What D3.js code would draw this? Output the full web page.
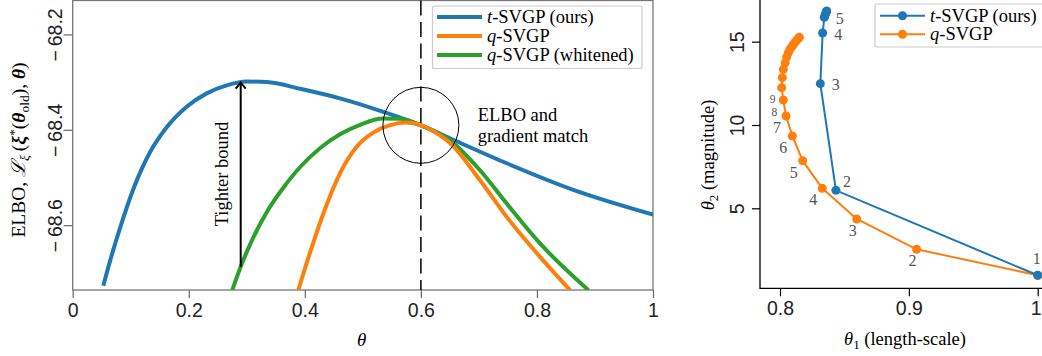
<!DOCTYPE html>
<html>
<head>
<meta charset="utf-8">
<script src="https://cdn.jsdelivr.net/npm/d3@7"></script>
<style>
  body { margin: 0; background: #fff; }
  svg { display: block; font-family: "Liberation Serif", "Times New Roman", serif; }
</style>
</head>
<body>
<script>
// left panel: ELBO vs theta
const thetaTicks = [0, 0.2, 0.4, 0.6, 0.8, 1];
const elboTicks = [-68.6, -68.4, -68.2];

const tTheta = [0.0527, 0.0643, 0.0815, 0.1044, 0.1332, 0.162, 0.1964, 0.2309, 0.2654, 0.2998, 0.3343, 0.3917, 0.4606, 0.5352, 0.6002, 0.6617, 0.7479, 0.8627, 1.0];
const tElbo = [-68.7271, -68.6754, -68.6063, -68.5246, -68.4471, -68.3948, -68.3518, -68.3236, -68.3068, -68.2988, -68.2997, -68.3139, -68.334, -68.3623, -68.3906, -68.4241, -68.4702, -68.5259, -68.5778];

const qTheta = [0.3888, 0.4089, 0.4347, 0.4606, 0.4894, 0.518, 0.5468, 0.5756, 0.6002, 0.633, 0.6502, 0.7019, 0.7479, 0.8053, 0.857];
const qElbo = [-68.7361, -68.6578, -68.5667, -68.4913, -68.4354, -68.4059, -68.3902, -68.3849, -68.3906, -68.4115, -68.4276, -68.5058, -68.5826, -68.6664, -68.7361];

const wTheta = [0.275, 0.2895, 0.3107, 0.3343, 0.3624, 0.3916, 0.4261, 0.4606, 0.4951, 0.5347, 0.564, 0.6002, 0.6502, 0.7019, 0.7479, 0.8053, 0.8885];
const wElbo = [-68.7361, -68.6873, -68.6272, -68.5728, -68.5225, -68.4785, -68.4387, -68.4094, -68.3895, -68.3765, -68.377, -68.3906, -68.422, -68.4848, -68.5546, -68.6383, -68.7361];

const thetaOld = 0.6;
const matchElbo = -68.3906;
const arrowTheta = 0.2895;
const arrowFrom = -68.6873, arrowTo = -68.2988;

// right panel: hyperparameter trajectories
const lenTicks = [0.8, 0.9, 1];
const magTicks = [5, 10, 15];
const tLen = [1.0, 0.8434, 0.8313, 0.8331, 0.8344, 0.8350, 0.8356, 0.8360, 0.8362];
const tMag = [0.98, 6.08, 12.48, 15.52, 16.46, 16.6, 16.72, 16.8, 16.85];
const qLen = [1.0, 0.906, 0.8595, 0.8328, 0.8176, 0.8096, 0.8047, 0.8026, 0.8013, 0.8018, 0.8026, 0.804, 0.8052, 0.8064, 0.8077, 0.809, 0.8103, 0.8116, 0.8129, 0.8142, 0.815];
const qMag = [0.98, 2.54, 4.36, 6.2, 7.86, 9.34, 10.54, 11.5, 12.24, 12.84, 13.34, 13.73, 14.09, 14.33, 14.53, 14.69, 14.82, 14.96, 15.08, 15.2, 15.26];

const blue = "#1f77b4", orange = "#ff7f0e", green = "#2ca02c";

const svg = d3.select("body").append("svg")
    .attr("width", 1042)
    .attr("height", 356);

// ---------- left panel ----------
const x = d3.scaleLinear([0, 1], [72.7, 653]);
const y = d3.scaleLinear([-68.736, -68.1288], [290, 0.5]);

svg.append("clipPath").attr("id", "clipL")
  .append("rect")
    .attr("x", x(0)).attr("y", y.range()[1])
    .attr("width", x(1) - x(0)).attr("height", y.range()[0] - y.range()[1]);

const gx = svg.append("g")
    .attr("transform", `translate(0,${y.range()[0]})`)
    .call(d3.axisBottom(x).tickValues(thetaTicks).tickSize(8).tickPadding(5)
      .tickFormat(d => d === 0 || d === 1 ? String(d) : d3.format(".1f")(d)));
gx.select(".domain").remove();

const gy = svg.append("g")
    .attr("transform", `translate(${x(0)},0)`)
    .call(d3.axisLeft(y).tickValues(elboTicks).tickSize(9)
      .tickFormat(d => "\u2212\u2009" + d3.format(".1f")(-d)));
gy.select(".domain").remove();
gy.selectAll("text")
    .attr("x", null).attr("dy", null)
    .attr("text-anchor", "middle")
    .attr("transform", "translate(-11,0) rotate(-90)");

svg.selectAll(".tick line").attr("stroke", "#666").attr("stroke-width", 1.2);
svg.selectAll(".tick text").attr("font-size", 19.5).attr("fill", "#222").attr("font-family", null);

svg.append("rect")
    .attr("x", x(0)).attr("y", y.range()[1])
    .attr("width", x(1) - x(0)).attr("height", y.range()[0] - y.range()[1])
    .attr("fill", "none").attr("stroke", "#777").attr("stroke-width", 1.3);

const line = d3.line().x(d => x(d[0])).y(d => y(d[1])).curve(d3.curveMonotoneX);

const curves = [
  {th: tTheta, v: tElbo, color: blue},
  {th: wTheta, v: wElbo, color: green},
  {th: qTheta, v: qElbo, color: orange}
];

// dashed theta_old line
svg.append("line")
    .attr("x1", x(thetaOld)).attr("x2", x(thetaOld))
    .attr("y1", y.range()[1]).attr("y2", y.range()[0])
    .attr("stroke", "#000").attr("stroke-width", 1.5)
    .attr("stroke-dasharray", "15,6.5");

svg.append("g")
    .attr("clip-path", "url(#clipL)")
    .attr("fill", "none")
    .attr("stroke-width", 4)
  .selectAll("path")
  .data(curves)
  .join("path")
    .attr("stroke", d => d.color)
    .attr("d", d => line(d.th.map((t, i) => [t, d.v[i]])));

svg.append("circle")
    .attr("cx", x(thetaOld)).attr("cy", y(matchElbo))
    .attr("r", 38)
    .attr("fill", "none").attr("stroke", "#000").attr("stroke-width", 1);

svg.append("text")
    .attr("x", 477.7).attr("y", 120.5)
    .attr("font-size", 18.5)
  .selectAll("tspan")
  .data(["ELBO and", "gradient match"])
  .join("tspan")
    .attr("x", 477.7)
    .attr("dy", (d, i) => i ? 21.5 : 0)
    .text(d => d);

// tighter bound arrow
const ax = x(arrowTheta), ay0 = y(arrowFrom), ay1 = y(arrowTo);
svg.append("line")
    .attr("x1", ax).attr("x2", ax).attr("y1", ay0).attr("y2", ay1 + 1)
    .attr("stroke", "#000").attr("stroke-width", 2);
svg.append("path")
    .attr("d", `M${ax - 5},${ay1 + 7}L${ax},${ay1 + 1}L${ax + 5},${ay1 + 7}`)
    .attr("fill", "none").attr("stroke", "#000").attr("stroke-width", 2);
svg.append("text")
    .attr("transform", `translate(228,174) rotate(-90)`)
    .attr("text-anchor", "middle")
    .attr("font-size", 18.5)
    .text("Tighter bound");

// legend
const legL = svg.append("g");
legL.append("rect")
    .attr("x", 432.5).attr("y", 6).attr("width", 209.5).attr("height", 62.5).attr("rx", 2)
    .attr("fill", "#fff").attr("fill-opacity", 0.85).attr("stroke", "#ccc").attr("stroke-width", 1.2);
const legItems = [
  {pre: "t", post: "-SVGP (ours)", color: blue},
  {pre: "q", post: "-SVGP", color: orange},
  {pre: "q", post: "-SVGP (whitened)", color: green}
];
legItems.forEach((d, i) => {
  const yy = 17 + i * 19;
  legL.append("line").attr("x1", 437).attr("x2", 482).attr("y1", yy).attr("y2", yy)
      .attr("stroke", d.color).attr("stroke-width", 4);
  const t = legL.append("text").attr("x", 487).attr("y", yy + 6).attr("font-size", 18.5);
  t.append("tspan").attr("font-style", "italic").text(d.pre);
  t.append("tspan").text(d.post);
});

// axis labels
svg.append("text")
    .attr("x", 361.7).attr("y", 346)
    .attr("text-anchor", "middle")
    .attr("font-size", 19).attr("font-style", "italic")
    .text("\u03B8");

const yl = svg.append("text")
    .attr("transform", "translate(25,150) rotate(-90)")
    .attr("text-anchor", "middle")
    .attr("font-size", 19.5);
yl.append("tspan").text("ELBO, ");
yl.append("tspan").attr("font-style", "italic").text("\u2112");
yl.append("tspan").attr("font-style", "italic").attr("font-size", 13.5).attr("dy", 4).text("\u03BE");
yl.append("tspan").attr("dy", -4).text("\u2009(");
yl.append("tspan").attr("font-style", "italic").attr("font-weight", "bold").text("\u03BE");
yl.append("tspan").attr("font-size", 13.5).attr("dy", -7).text("*");
yl.append("tspan").attr("dy", 7).text("(");
yl.append("tspan").attr("font-style", "italic").attr("font-weight", "bold").text("\u03B8");
yl.append("tspan").attr("font-size", 13.5).attr("dy", 4).text("old");
yl.append("tspan").attr("dy", -4).text("), ");
yl.append("tspan").attr("font-style", "italic").attr("font-weight", "bold").text("\u03B8");
yl.append("tspan").text(")");

// ---------- right panel ----------
const x2 = d3.scaleLinear([0.8, 1], [780, 1037.7]);
const y2 = d3.scaleLinear([5, 15], [208.3, 41.7]);
const left2 = 760, bottom2 = 288.3;

const gx2 = svg.append("g")
    .attr("transform", `translate(0,${bottom2})`)
    .call(d3.axisBottom(x2).tickValues(lenTicks).tickSize(8).tickPadding(5)
      .tickFormat(d => d === 1 ? "1" : d3.format(".1f")(d)));
gx2.select(".domain").remove();
// keep the last label inside the frame
gx2.selectAll(".tick text").filter(d => d === 1).attr("dx", -2);

const gy2 = svg.append("g")
    .attr("transform", `translate(${left2},0)`)
    .call(d3.axisLeft(y2).tickValues(magTicks).tickSize(8));
gy2.select(".domain").remove();
gy2.selectAll("text")
    .attr("x", null).attr("dy", null)
    .attr("text-anchor", "middle")
    .attr("transform", "translate(-16,0) rotate(-90)");

[gx2, gy2].forEach(g => {
  g.selectAll(".tick line").attr("stroke", "#000").attr("stroke-width", 1.2);
  g.selectAll(".tick text").attr("font-size", 19.5).attr("fill", "#222").attr("font-family", null);
});

svg.append("path")
    .attr("d", `M${left2},0V${bottom2}H1042`)
    .attr("fill", "none").attr("stroke", "#000").attr("stroke-width", 1.3);

const line2 = d3.line().x(d => x2(d[0])).y(d => y2(d[1]));
const traj = [
  {len: qLen, mag: qMag, color: orange},
  {len: tLen, mag: tMag, color: blue}
];
traj.forEach(s => {
  const pts = s.len.map((l, i) => [l, s.mag[i]]);
  svg.append("path").attr("d", line2(pts))
      .attr("fill", "none").attr("stroke", s.color).attr("stroke-width", 2);
  svg.append("g").selectAll("circle").data(pts).join("circle")
      .attr("cx", d => x2(d[0])).attr("cy", d => y2(d[1])).attr("r", 4.5)
      .attr("fill", s.color);
});

// iteration labels
const labels = svg.append("g")
    .attr("fill", "#555")
    .attr("text-anchor", "middle")
    .attr("dominant-baseline", "central");
qLen.slice(1, 9).forEach((l, j) => {
  const i = j + 1;
  const dx = i < 3 ? -4 : -9;
  labels.append("text")
      .attr("x", x2(l) + dx).attr("y", y2(qMag[i]) + 11.5)
      .attr("font-size", i >= 7 ? 11.5 : 16)
      .text(i + 1);
});
tLen.slice(0, 5).forEach((l, i) => {
  const off = i === 0 ? [-1, -17] : i === 1 ? [11, -9] : [15.5, 1];
  labels.append("text")
      .attr("x", x2(l) + off[0]).attr("y", y2(tMag[i]) + off[1])
      .attr("font-size", 16)
      .text(i + 1);
});

// right legend
const legR = svg.append("g");
legR.append("rect")
    .attr("x", 875).attr("y", 4).attr("width", 180).attr("height", 43).attr("rx", 2)
    .attr("fill", "#fff").attr("fill-opacity", 0.85).attr("stroke", "#ccc").attr("stroke-width", 1.2);
[{pre: "t", post: "-SVGP (ours)", color: blue}, {pre: "q", post: "-SVGP", color: orange}].forEach((d, i) => {
  const yy = 15.7 + i * 18.6;
  legR.append("line").attr("x1", 880).attr("x2", 925).attr("y1", yy).attr("y2", yy)
      .attr("stroke", d.color).attr("stroke-width", 2);
  legR.append("circle").attr("cx", 902.5).attr("cy", yy).attr("r", 4.5).attr("fill", d.color);
  const t = legR.append("text").attr("x", 930).attr("y", yy + 6).attr("font-size", 18.5);
  t.append("tspan").attr("font-style", "italic").text(d.pre);
  t.append("tspan").text(d.post);
});

// right axis labels
const xl2 = svg.append("text")
    .attr("x", 905).attr("y", 345)
    .attr("text-anchor", "middle")
    .attr("font-size", 18.5);
xl2.append("tspan").attr("font-style", "italic").text("\u03B8");
xl2.append("tspan").attr("font-size", 13).attr("dy", 4).text("1");
xl2.append("tspan").attr("dy", -4).text(" (length-scale)");

const yl2 = svg.append("text")
    .attr("transform", "translate(714,155) rotate(-90)")
    .attr("text-anchor", "middle")
    .attr("font-size", 18.5);
yl2.append("tspan").attr("font-style", "italic").text("\u03B8");
yl2.append("tspan").attr("font-size", 13).attr("dy", 4).text("2");
yl2.append("tspan").attr("dy", -4).text(" (magnitude)");
</script>
</body>
</html>
